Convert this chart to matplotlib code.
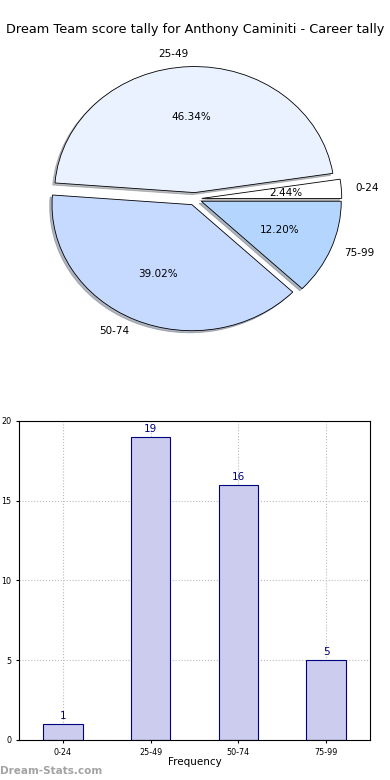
import matplotlib
matplotlib.use("Agg")
import matplotlib.pyplot as plt

categories = ["0-24", "25-49", "50-74", "75-99"]
counts = [1, 19, 16, 5]
pie_colors = ["#ffffff", "#eaf1ff", "#c6d9ff", "#b4d5fe"]
explode = [0.05, 0.05, 0.05, 0.05]
title = "Dream Team score tally for Anthony Caminiti - Career tally"

fig = plt.figure(figsize=(3.9, 7.8), dpi=100)
fig.text(0.5, 0.962, title, ha="center", va="center", fontsize=9.3)

ax1 = fig.add_axes([0.051, 0.543, 0.897, 0.404])
wedges, texts, autotexts = ax1.pie(counts, labels=categories, colors=pie_colors,
                                   explode=explode, autopct="%1.2f%%",
                                   shadow={"ox": -0.012, "oy": -0.012, "shade": 0.5},
                                   startangle=0, textprops={"fontsize": 7.5},
                                   wedgeprops={"edgecolor": "black", "linewidth": 0.6})
ax1.set_aspect("auto")
ax1.set_xlim(-1.25, 1.25)
ax1.set_ylim(-1.25, 1.25)
ax1.axis("off")

ax2 = fig.add_axes([0.0487, 0.0513, 0.9, 0.409])
x = list(range(len(categories)))
bars = ax2.bar(x, counts, width=0.45, color="#ccccee", edgecolor="navy", linewidth=0.8, zorder=2)
for xi, c in zip(x, counts):
    ax2.text(xi, c + 0.2, str(c), ha="center", va="bottom", color="navy", fontsize=7.5)
ax2.set_xlim(-0.5, 3.5)
ax2.set_ylim(0, 20)
ax2.set_xticks(x)
ax2.set_xticklabels(categories)
ax2.set_yticks([0, 5, 10, 15, 20])
ax2.tick_params(labelsize=5.8, length=2)
ax2.grid(True, linestyle=":", color="#bbbbbb", linewidth=0.8, zorder=0)
ax2.set_axisbelow(True)
ax2.set_xlabel("Frequency", fontsize=7.5, labelpad=0)
ax2.set_ylabel("Score Tally", fontsize=7.5)

fig.text(0.0, 0.012, "Dream-Stats.com", ha="left", va="center", fontsize=7.5,
         color="#999999", fontweight="bold", alpha=0.9)

fig.savefig("out.png", dpi=100)
